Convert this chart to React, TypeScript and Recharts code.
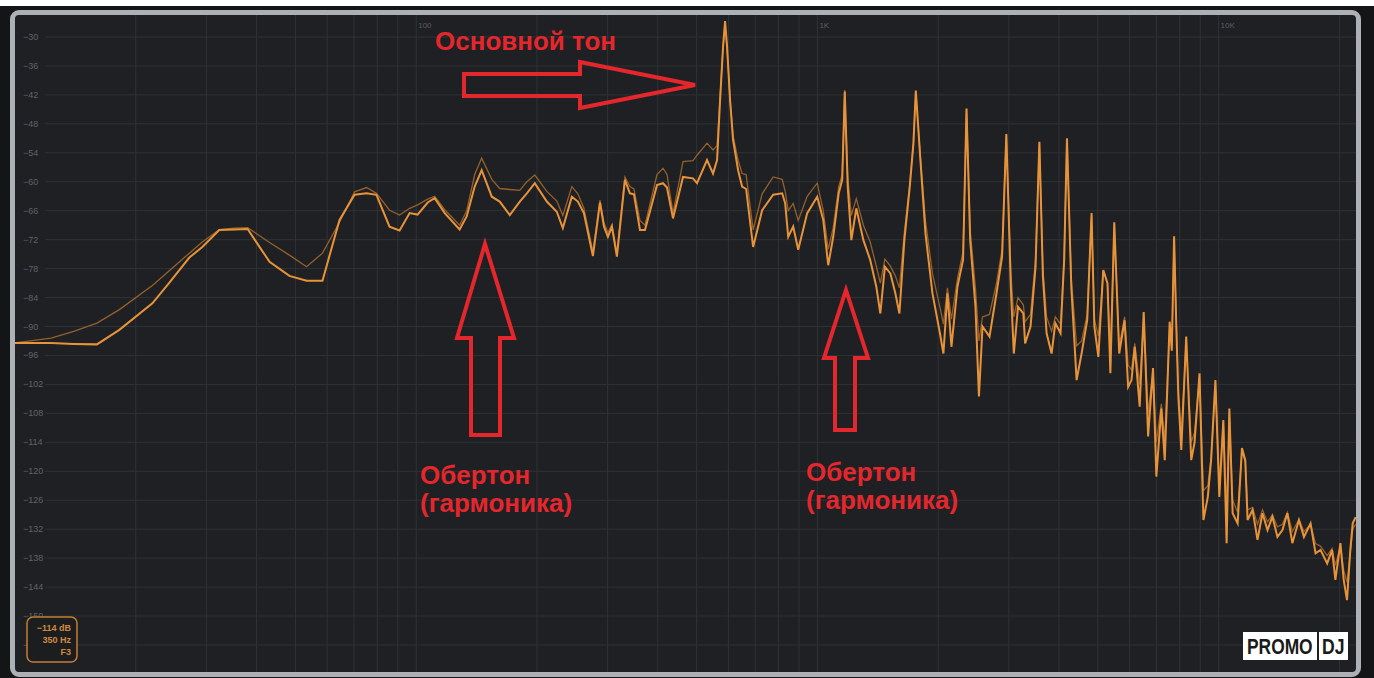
import React from 'react';
import { LineChart, Line, XAxis, YAxis, ReferenceLine } from 'recharts';

// Frequency (Hz) of each sampled point of the spectrum
const freqHz = [
  10, 12.3, 14.0, 16.0, 18.2, 22.0, 24.2, 27.2, 29.3, 32.3,
  35.2, 38.0, 43.1, 48.3, 53.3, 58.4, 64.4, 70.2, 75.2, 79.6,
  85.8, 90.9, 96.3, 100.8, 106.8, 111.2, 117.8, 128.3, 133.6, 139.9,
  145.6, 154.3, 161.5, 171.1, 181.2, 188.7, 197.5, 211.6, 224.1, 232.0,
  244.3, 252.9, 261.8, 275.7, 287.1, 293.8, 300.5, 307.5, 316.4, 331.3,
  340.9, 348.9, 361.2, 371.7, 398.2, 412.2, 421.8, 436.6, 462.4, 489.7,
  501.1, 530.7, 549.4, 562.2, 572.0, 581.9, 588.6, 595.4, 605.8, 616.3,
  634.3, 649.1, 664.2, 691.5, 728.2, 775.8, 817.0, 831.2, 845.7, 870.3,
  895.7, 943.1, 998.9, 1034, 1064, 1095, 1130, 1153, 1170, 1190,
  1215, 1250, 1302, 1354, 1402, 1435, 1473, 1520, 1564, 1601,
  1647, 1699, 1735, 1759, 1806, 1859, 1935, 2020, 2061, 2109,
  2158, 2234, 2307, 2353, 2403, 2477, 2527, 2579, 2685, 2795,
  2886, 2957, 3036, 3087, 3162, 3260, 3294, 3398, 3497, 3575,
  3648, 3726, 3835, 3917, 4037, 4121, 4188, 4293, 4426, 4555,
  4704, 4823, 4901, 5015, 5158, 5284, 5373, 5494, 5652, 5830,
  5949, 6066, 6179, 6358, 6506, 6672, 6863, 6995, 7199, 7341,
  7551, 7643, 7745, 7844, 7934, 8072, 8303, 8545, 8708, 8962,
  9165, 9399, 9578, 9818, 10040, 10274, 10471, 10635, 10838, 11154,
  11434, 11653, 11808, 12152, 12499, 12864, 13238, 13617, 14014, 14424,
  14836, 15268, 15856, 16318, 16950, 17443, 17941, 18645, 19178, 19546,
  20116, 20501, 20893, 21294, 21590, 21950,
];

// Bright (current) spectrum, dB
const brightDb = [
  -93.4, -93.4, -93.6, -93.7, -90.7, -85.2, -81.0, -75.7, -73.5, -70.0,
  -69.9, -69.8, -76.6, -79.5, -80.5, -80.5, -67.9, -62.7, -62.4, -62.7,
  -69.3, -70.1, -66.5, -66.8, -64.3, -63.4, -66.5, -69.9, -67.2, -61.0,
  -57.6, -63.1, -64.1, -66.9, -64.1, -62.4, -60.3, -64.1, -66.2, -69.6,
  -63.1, -64.1, -66.5, -75.4, -64.3, -69.3, -71.4, -69.3, -75.5, -59.6,
  -62.4, -62.6, -70.0, -70.0, -60.7, -60.3, -61.2, -67.6, -59.0, -59.3,
  -60.3, -55.5, -58.3, -55.5, -43.1, -32.0, -26.7, -32.0, -43.1, -51.3,
  -57.6, -61.0, -61.5, -73.5, -65.9, -62.7, -62.4, -64.5, -71.4, -69.3,
  -74.1, -66.5, -63.1, -67.9, -77.3, -71.4, -62.4, -59.6, -41.3, -61.0,
  -72.1, -65.5, -72.1, -76.2, -81.7, -87.3, -77.6, -79.0, -83.1, -87.3,
  -72.1, -61.0, -52.0, -41.1, -55.5, -70.7, -83.1, -91.4, -95.6, -83.1,
  -94.2, -81.7, -76.2, -44.8, -72.1, -85.9, -104.5, -90.0, -92.1, -83.1,
  -75.5, -50.1, -82.4, -95.6, -85.9, -87.3, -93.5, -90.0, -77.6, -51.7,
  -79.7, -91.4, -95.6, -89.3, -91.4, -76.2, -51.0, -81.7, -101.1, -95.6,
  -88.7, -66.5, -90.0, -96.3, -78.3, -81.0, -99.7, -68.4, -95.6, -88.7,
  -102.5, -101.1, -94.2, -106.6, -87.0, -112.8, -98.6, -121.1, -107.0, -117.7,
  -89.0, -95.0, -71.3, -90.0, -104.3, -115.6, -92.1, -117.7, -114.1, -99.7,
  -130.1, -125.3, -117.7, -101.1, -125.3, -109.4, -134.9, -107.0, -128.7, -130.8,
  -115.2, -117.7, -130.1, -128.0, -134.2, -128.7, -132.2, -129.4, -133.6, -132.2,
  -128.7, -134.9, -130.1, -133.6, -130.8, -137.0, -136.3, -139.1, -136.3, -142.5,
  -134.9, -142.5, -146.7, -136.3, -130.8, -129.5,
];

// Dim (held / previous) spectrum, dB
const dimDb = [
  -93.4, -92.4, -91.0, -89.3, -86.5, -81.5, -78.5, -74.8, -72.5, -69.9,
  -69.6, -69.5, -72.6, -75.2, -77.6, -74.8, -68.4, -62.1, -61.2, -62.4,
  -65.9, -66.9, -65.5, -64.8, -63.6, -63.0, -65.8, -69.0, -66.0, -58.5,
  -55.1, -59.5, -61.4, -61.6, -61.8, -60.0, -58.6, -62.0, -64.0, -67.0,
  -61.0, -62.5, -65.5, -74.5, -63.8, -68.5, -70.5, -68.8, -74.8, -59.0,
  -61.0, -61.5, -68.0, -69.0, -58.5, -57.2, -58.5, -66.5, -55.8, -55.6,
  -54.5, -52.0, -53.4, -52.5, -42.5, -32.0, -27.5, -32.5, -43.0, -50.5,
  -55.5, -58.3, -58.5, -70.0, -62.5, -59.0, -59.5, -62.0, -66.0, -64.5,
  -68.0, -63.0, -60.3, -66.0, -74.0, -69.5, -61.0, -58.5, -41.0, -59.0,
  -67.0, -63.5, -69.0, -72.5, -77.5, -81.0, -76.0, -77.5, -79.5, -82.0,
  -70.5, -60.5, -52.0, -41.5, -55.0, -68.0, -79.0, -86.0, -89.5, -82.0,
  -88.5, -80.0, -74.5, -45.0, -70.0, -82.0, -93.0, -88.0, -87.5, -81.0,
  -74.0, -50.5, -79.0, -88.0, -84.0, -85.5, -89.0, -87.5, -76.0, -52.0,
  -78.0, -88.0, -91.0, -88.0, -89.5, -75.5, -51.5, -80.0, -94.0, -93.0,
  -87.5, -67.0, -88.5, -92.0, -78.5, -81.0, -95.0, -69.0, -94.0, -88.0,
  -98.0, -99.0, -93.5, -102.0, -88.0, -108.0, -99.0, -114.0, -106.0, -113.5,
  -90.0, -94.0, -72.0, -89.0, -103.0, -112.0, -93.0, -114.0, -112.0, -100.5,
  -124.0, -123.0, -117.0, -102.0, -122.0, -110.0, -128.0, -108.0, -126.0, -128.5,
  -116.0, -118.0, -128.0, -127.5, -131.0, -128.0, -130.5, -129.0, -131.5, -131.0,
  -128.5, -132.5, -130.0, -132.5, -131.0, -135.0, -135.5, -137.5, -136.0, -139.5,
  -135.5, -140.5, -143.0, -137.0, -132.0, -131.0,
];

// Level grid (dB) and frequency grid (Hz)
const dbTicks = [-30, -36, -42, -48, -54, -60, -66, -72, -78, -84, -90, -96, -102, -108, -114, -120, -126, -132, -138, -144, -150, -156];
const gridFreqs = [
  20, 30, 40, 50, 60, 70, 80, 90,
  100, 200, 300, 400, 500, 600, 700, 800, 900,
  1000, 2000, 3000, 4000, 5000, 6000, 7000, 8000, 9000,
  10000, 20000,
];
const freqLabelValues = [100, 1000, 10000];
const freqLabelTexts = ['100', '1K', '10K'];

// Cursor readout box
const readoutLines = ['\u2212114 dB', '350 Hz', 'F3'];

const rows = freqHz.map((f, i) => ({ f, bright: brightDb[i], dim: dimDb[i] }));

const RED = '#e3272d';
const FONT = '"Liberation Sans", Arial, sans-serif';

export default function App() {
  return (
    <div style={{ position: 'absolute', left: 0, top: 0, width: 1374, height: 678, background: '#ffffff', overflow: 'hidden' }}>
      <div style={{ position: 'absolute', left: 0, top: 6, width: 1374, height: 672, background: '#141516' }} />
      <div
        style={{
          position: 'absolute', left: 10, top: 10, width: 1351, height: 667, boxSizing: 'border-box',
          border: '5px solid #adb1b5', borderRadius: 9, background: '#1e2023',
        }}
      />
      <div style={{ position: 'absolute', left: 15, top: 15 }}>
        <LineChart width={1341} height={657} data={rows} margin={{ top: 0, right: 0, bottom: 0, left: 0 }}>
          <XAxis dataKey="f" type="number" scale="log" domain={[10, 22000]} allowDataOverflow hide />
          <YAxis type="number" domain={[-161.6, -25.44]} allowDataOverflow hide />
          {gridFreqs.map((g) => {
            const li = freqLabelValues.indexOf(g);
            return (
              <ReferenceLine
                key={'v' + g}
                x={g}
                ifOverflow="visible"
                stroke="#2f3236"
                shape={(p: any) => {
                  const top = Math.min(p.y1, p.y2);
                  const bot = Math.max(p.y1, p.y2);
                  return (
                    <g>
                      <line x1={p.x1} y1={top} x2={p.x2} y2={bot} stroke="#2f3236" strokeWidth={1} />
                      {li >= 0 ? (
                        <text x={p.x1 + 2} y={top + 13} fontSize={8} fill="#5b5f63" fontFamily={FONT}>
                          {freqLabelTexts[li]}
                        </text>
                      ) : null}
                    </g>
                  );
                }}
              />
            );
          })}
          {dbTicks.map((t) => (
            <ReferenceLine
              key={'h' + t}
              y={t}
              ifOverflow="visible"
              stroke="#2f3236"
              shape={(p: any) => {
                const left = Math.min(p.x1, p.x2);
                const right = Math.max(p.x1, p.x2);
                return (
                  <g>
                    <line x1={left + 30} y1={p.y1} x2={right} y2={p.y2} stroke="#2f3236" strokeWidth={1} />
                    <text x={left + 8} y={p.y1 + 3} fontSize={9} fill="#5f6367" fontFamily={FONT}>
                      {'\u2212' + Math.abs(t)}
                    </text>
                  </g>
                );
              }}
            />
          ))}
          <Line type="linear" dataKey="dim" stroke="#94602c" strokeWidth={1.3} dot={false} activeDot={false} isAnimationActive={false} />
          <Line type="linear" dataKey="bright" stroke="#e8933a" strokeWidth={2} dot={false} activeDot={false} isAnimationActive={false} />
        </LineChart>
      </div>
      <svg width={1374} height={678} style={{ position: 'absolute', left: 0, top: 0, pointerEvents: 'none' }}>
        <g fill="none" stroke={RED} strokeWidth={4} strokeLinejoin="miter">
          <polygon points="464,74 580,74 580,62 695,85 580,108 580,96 464,96" />
          <polygon points="485,244 514,338 500,338 500,435 471,435 471,338 457,338" />
          <polygon points="846,290 868,358 855,358 855,430 835,430 835,358 824,358" />
        </g>
        <g fill={RED} fontFamily={FONT} fontWeight="bold" fontSize={26}>
          <text x={435} y={50}>Основной тон</text>
          <text x={420} y={484}>Обертон</text>
          <text x={420} y={512}>(гармоника)</text>
          <text x={806} y={481}>Обертон</text>
          <text x={806} y={509}>(гармоника)</text>
        </g>
        <rect x={27} y={617} width={50} height={45} rx={6} fill="#1c1d1f" stroke="#c47d35" strokeWidth={1.5} />
        <g fill="#d08a40" fontFamily={FONT} fontSize={9} fontWeight="bold" textAnchor="end">
          {readoutLines.map((s, i) => (
            <text key={s} x={71} y={631 + i * 12}>{s}</text>
          ))}
        </g>
        <rect x={1243} y={632} width={74} height={28} fill="#ffffff" />
        <rect x={1319} y={632} width={29} height={28} fill="#ffffff" />
        <g fill="#1a1a1a" fontFamily={FONT} fontWeight="bold" fontSize={22}>
          <text transform="translate(1247,654) scale(0.79,1)">PROMO</text>
          <text transform="translate(1322,654) scale(0.8,1)">DJ</text>
        </g>
      </svg>
    </div>
  );
}
